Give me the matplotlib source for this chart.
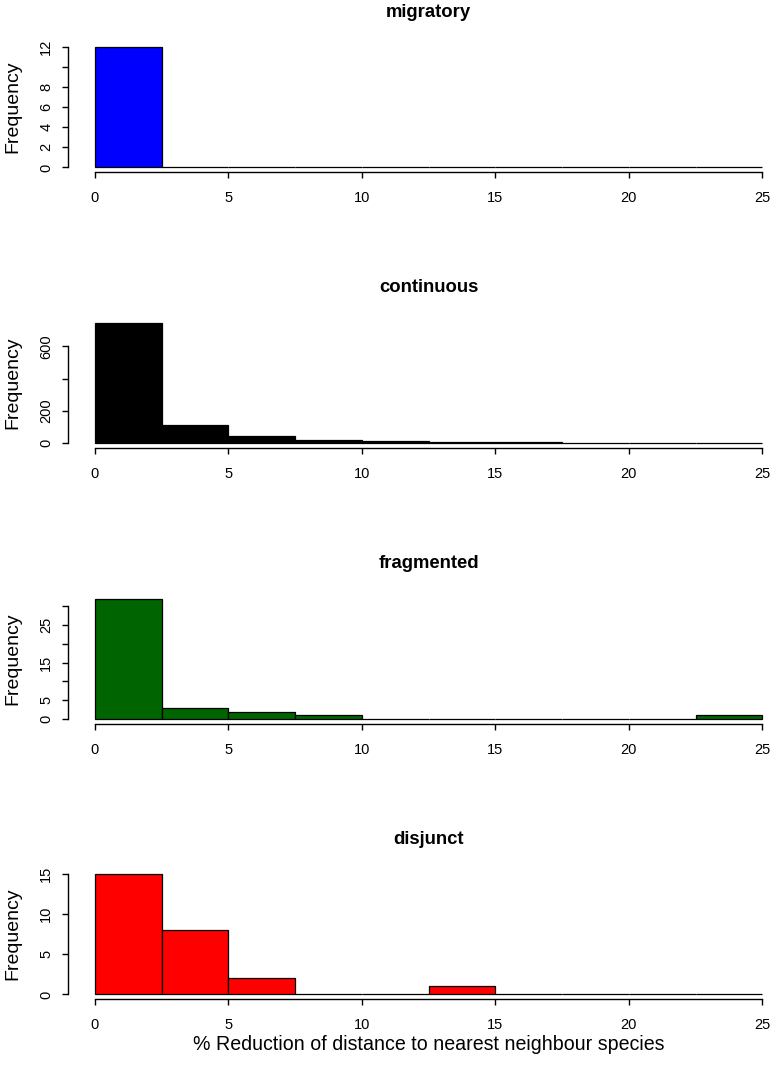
import matplotlib
matplotlib.use("Agg")
import matplotlib.pyplot as plt
import numpy as np

plt.rcParams['font.family'] = ['Liberation Sans', 'DejaVu Sans']

bin_edges = [0, 2.5, 5, 7.5, 10, 12.5, 15, 17.5, 20, 22.5, 25]
x_ticks = [0, 5, 10, 15, 20, 25]

titles = ["migratory", "continuous", "fragmented", "disjunct"]
colors = ["#0000FF", "#000000", "#006400", "#FF0000"]

migratory = [12, 0, 0, 0, 0, 0, 0, 0, 0, 0]
continuous = [746, 113, 41, 20, 12, 6, 4, 1, 1, 2]
fragmented = [32, 3, 2, 1, 0, 0, 0, 0, 0, 1]
disjunct = [15, 8, 2, 0, 0, 1, 0, 0, 0, 0]
counts = [migratory, continuous, fragmented, disjunct]

y_ticks = [[0, 2, 4, 6, 8, 10, 12], [0, 200, 400, 600], [0, 5, 10, 15, 20, 25, 30], [0, 5, 10, 15]]
y_labels = [["0", "2", "4", "6", "8", "", "12"], ["0", "200", "", "600"],
            ["0", "5", "", "15", "", "25", ""], ["0", "5", "10", "15"]]

W, H = 774, 1068
fig = plt.figure(figsize=(W / 100, H / 100), dpi=100)

left_px, right_px = 68.3, 789.0
tops = [42.2, 317.9, 593.9, 869.2]
ph = 130.0

for i in range(4):
    top = tops[i]
    ax = fig.add_axes([left_px / W, 1 - (top + ph) / H, (right_px - left_px) / W, ph / H])
    c = counts[i]
    ymax = max(c)
    lefts = np.array(bin_edges[:-1])
    widths = np.diff(bin_edges)
    ax.bar(lefts, c, width=widths, align='edge', color=colors[i],
           edgecolor='black', linewidth=0.9)
    ax.set_xlim(-1, 26)
    ax.set_ylim(-0.04 * ymax, 1.04 * ymax)
    for s in ['top', 'right']:
        ax.spines[s].set_visible(False)
    ax.spines['left'].set_bounds(0, y_ticks[i][-1])
    ax.spines['bottom'].set_bounds(0, 25)
    ax.spines['left'].set_linewidth(1.0)
    ax.spines['bottom'].set_linewidth(1.0)
    ax.set_xticks(x_ticks)
    ax.set_xticklabels([str(t) for t in x_ticks])
    ax.set_yticks(y_ticks[i])
    ax.set_yticklabels(y_labels[i], rotation=90, va='center')
    ax.tick_params(axis='both', direction='out', length=4.3, width=1.0, labelsize=10.5)
    ax.tick_params(axis='x', pad=9.5)
    ax.tick_params(axis='y', pad=6.5)
    fig.text(13 / W, 1 - (top + ph / 2) / H, "Frequency", rotation=90,
             ha='center', va='center', fontsize=14)
    ax.text(0.5, 1 + 30 / ph, titles[i], transform=ax.transAxes, ha='center',
            va='center', fontsize=13.3, fontweight='bold')

fig.text((left_px + right_px) / 2 / W, 1 - 1045 / H,
         "% Reduction of distance to nearest neighbour species",
         ha='center', va='center', fontsize=14.1)

fig.savefig("out.png", dpi=100)
